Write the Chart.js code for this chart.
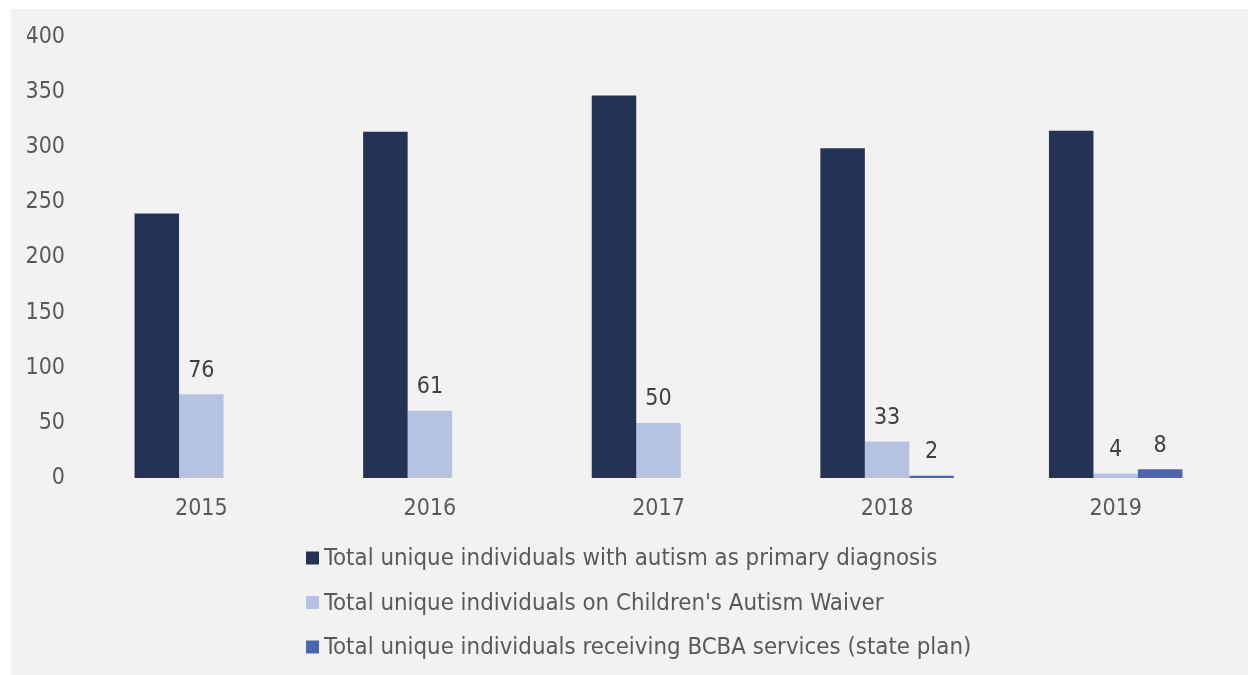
<!DOCTYPE html>
<html>
<head>
<meta charset="utf-8">
<script src="https://cdn.jsdelivr.net/npm/chart.js@4.4.1/dist/chart.umd.min.js"></script>
<style>
  html, body { margin: 0; padding: 0; background: #ffffff; }
  body { width: 1248px; height: 675px; position: relative; overflow: hidden; }
  #panel { position: absolute; left: 11px; top: 9px; width: 1237px; height: 666px; background: #f2f2f2; }
  canvas { display: block; }
</style>
</head>
<body>
<div id="panel"><canvas id="chart" width="1237" height="666"></canvas></div>
<script>
const FONT = "'DejaVu Sans Condensed', Tahoma, 'DejaVu Sans', sans-serif";

const years = ['2015', '2016', '2017', '2018', '2019'];
const seriesNames = [
  'Total unique individuals with autism as primary diagnosis',
  "Total unique individuals on Children's Autism Waiver",
  'Total unique individuals receiving BCBA services (state plan)'
];
const primaryDiagnosis = [240, 314, 347, 299, 315];
const autismWaiver = [76, 61, 50, 33, 4];
const bcbaServices = [null, null, null, 2, 8];
const yTicks = [0, 50, 100, 150, 200, 250, 300, 350, 400];

const colors = ['#243355', '#b5c3e1', '#4966ae'];

// Value labels above the waiver and BCBA bars
const valueLabels = {
  id: 'valueLabels',
  afterDatasetsDraw(chart) {
    const ctx = chart.ctx;
    ctx.save();
    ctx.font = '23px ' + FONT;
    ctx.fillStyle = '#404040';
    ctx.textAlign = 'center';
    ctx.textBaseline = 'bottom';
    [1, 2].forEach(di => {
      const meta = chart.getDatasetMeta(di);
      meta.data.forEach((bar, i) => {
        const v = chart.data.datasets[di].data[i];
        if (v === null || v === undefined) return;
        ctx.fillText(String(v), bar.x, bar.y - 12);
      });
    });
    ctx.restore();
  }
};

// Stacked legend, one series per row, left-aligned
const stackedLegend = {
  id: 'stackedLegend',
  afterDraw(chart) {
    const ctx = chart.ctx;
    ctx.save();
    ctx.font = '23.8px ' + FONT;
    ctx.textBaseline = 'middle';
    ctx.textAlign = 'left';
    const x0 = 295, y0 = 549, rowGap = 44.5, box = 13;
    chart.data.datasets.forEach((ds, i) => {
      const y = y0 + i * rowGap;
      ctx.fillStyle = ds.backgroundColor;
      ctx.fillRect(x0, y - box / 2, box, box);
      ctx.fillStyle = '#595959';
      ctx.fillText(ds.label, x0 + box + 5, y + 1);
    });
    ctx.restore();
  }
};

new Chart(document.getElementById('chart'), {
  type: 'bar',
  data: {
    labels: years,
    datasets: [
      { label: seriesNames[0], data: primaryDiagnosis, backgroundColor: colors[0] },
      { label: seriesNames[1], data: autismWaiver, backgroundColor: colors[1] },
      { label: seriesNames[2], data: bcbaServices, backgroundColor: colors[2] }
    ]
  },
  options: {
    responsive: false,
    animation: false,
    events: [],
    layout: { padding: { left: 16, right: 18, top: 28, bottom: 135.4 } },
    datasets: { bar: { barPercentage: 1, categoryPercentage: 0.584 } },
    plugins: {
      legend: { display: false },
      tooltip: { enabled: false }
    },
    scales: {
      x: {
        grid: { display: false, drawTicks: false },
        border: { display: false },
        ticks: { color: '#595959', font: { family: FONT, size: 23 }, padding: 17 }
      },
      y: {
        min: 0,
        max: 400,
        afterFit(scale) {
          scale.width = 60;
          scale.paddingTop = 0;
          scale.paddingBottom = 0;
        },
        afterBuildTicks(scale) { scale.ticks = yTicks.map(v => ({ value: v })); },
        grid: { display: false, drawTicks: false },
        border: { display: false },
        ticks: { color: '#595959', font: { family: FONT, size: 23 }, padding: 22 }
      }
    }
  },
  plugins: [valueLabels, stackedLegend]
});
</script>
</body>
</html>
